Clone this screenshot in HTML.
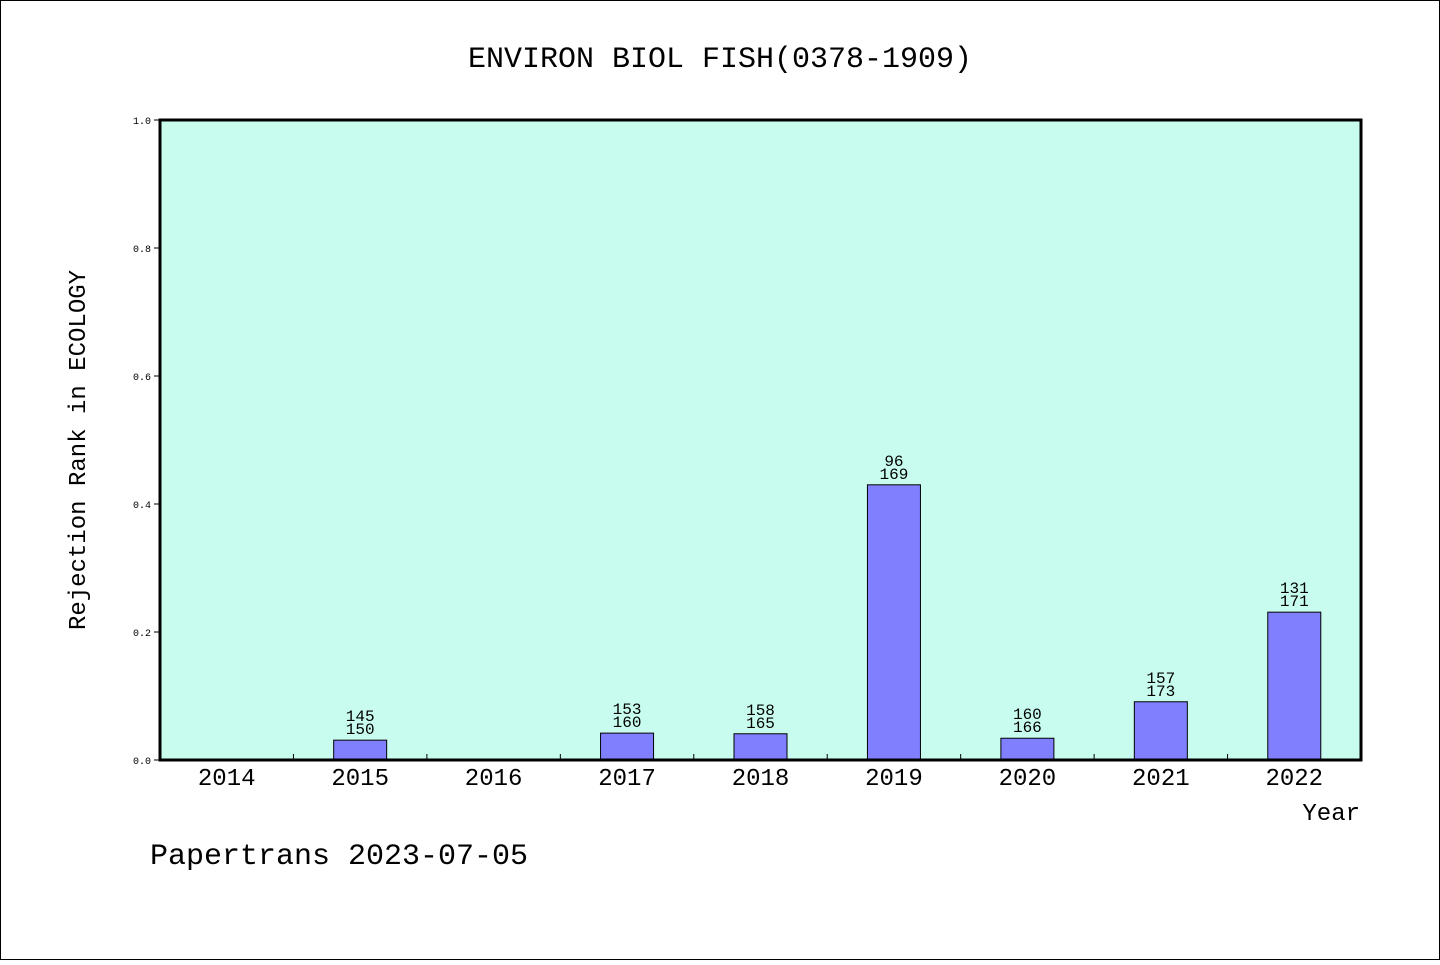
<!DOCTYPE html>
<html><head><meta charset="utf-8"><style>
body{margin:0;background:#fff}
svg text{font-family:"WenQuanYi Zen Hei","Liberation Mono",monospace;fill:#000}
</style></head><body>
<svg id="chart" width="1440" height="960" xmlns="http://www.w3.org/2000/svg">
<rect x="0.5" y="0.5" width="1439" height="959" fill="#fff" stroke="#000"/>
<text x="720" y="67" font-size="30" text-anchor="middle">ENVIRON BIOL FISH(0378-1909)</text>
<rect x="160" y="120" width="1201" height="640" fill="#c8fcef"/>
<g id="bars"></g>
<rect x="160" y="120" width="1201" height="640" fill="none" stroke="#000" stroke-width="3"/>
<g id="axes"></g>
<text x="85" y="450" font-size="24" text-anchor="middle" transform="rotate(-90 85 450)">Rejection Rank in ECOLOGY</text>
<text x="1360" y="820" font-size="24" text-anchor="end">Year</text>
<text x="150" y="864" font-size="30">Papertrans 2023-07-05</text>
</svg>
<script>
const categories=["2014","2015","2016","2017","2018","2019","2020","2021","2022"];
const values=[null,0.031,null,0.042,0.041,0.43,0.034,0.091,0.231];
const labelTop=[null,"145",null,"153","158","96","160","157","131"];
const labelBottom=[null,"150",null,"160","165","169","166","173","171"];
const yTicks=[0,0.2,0.4,0.6,0.8,1.0];
const yTickLabels=["0.0","0.2","0.4","0.6","0.8","1.0"];
const NS="http://www.w3.org/2000/svg";
const L=160,R=1361,T=120,B=760;
const step=(R-L)/categories.length;
const xC=i=>L+step*(i+0.5);
const yS=v=>B-(v)*(B-T);
function mk(tag,attrs,parent,text){const e=document.createElementNS(NS,tag);for(const k in attrs)e.setAttribute(k,attrs[k]);if(text!=null)e.textContent=text;parent.appendChild(e);return e;}
const bars=document.getElementById('bars'),axes=document.getElementById('axes');
categories.forEach((c,i)=>{
  const v=values[i];
  if(v!=null){
    const r=mk('rect',{x:xC(i)-26.5,y:yS(v),width:53,height:B-yS(v),fill:'#8080ff',stroke:'#000','stroke-width':1},bars);
    
    
    const t1=mk('text',{x:xC(i),y:yS(v)-19,'font-size':16,'text-anchor':'middle'},bars,labelTop[i]);
    
    
    const t2=mk('text',{x:xC(i),y:yS(v)-6,'font-size':16,'text-anchor':'middle'},bars,labelBottom[i]);
    
    
  }
  const xl=mk('text',{x:xC(i),y:785,'font-size':24,'text-anchor':'middle'},axes,c);
  
  
  if(i>0){
    const tk=mk('line',{x1:L+step*i,x2:L+step*i,y1:B,y2:B-6,stroke:'#000'},axes);
    
    
  }
});
yTicks.forEach((v,i)=>{
  const tk=mk('line',{x1:L-6,x2:L,y1:yS(v),y2:yS(v),stroke:'#000'},axes);
  
  
  const t=mk('text',{x:151,y:yS(v)+4,'font-size':10,'text-anchor':'end'},axes,yTickLabels[i]);
  
  
});
</script>
</body></html>
